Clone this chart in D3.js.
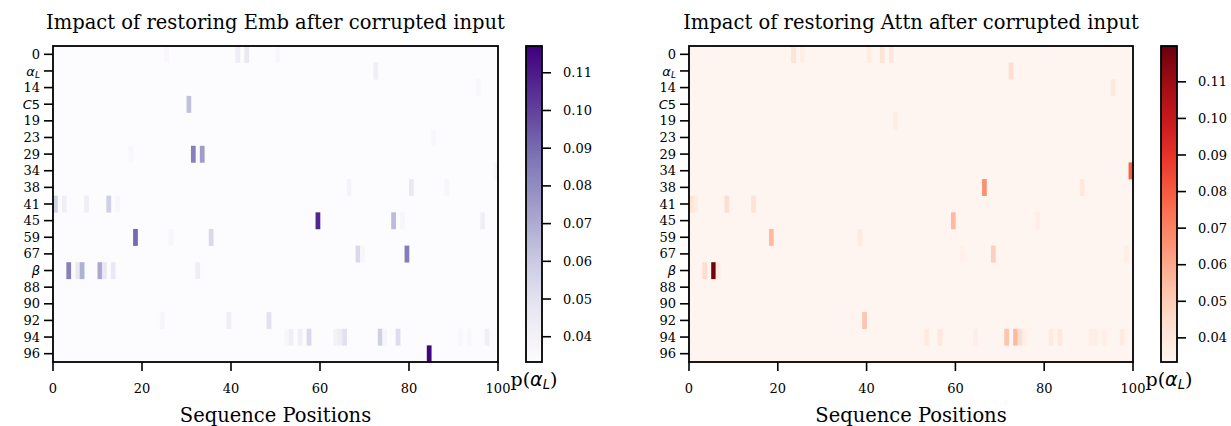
<!DOCTYPE html>
<html>
<head>
<meta charset="utf-8">
<script src="https://cdn.jsdelivr.net/npm/d3@7"></script>
<style>
  body { margin: 0; background: #fff; }
  svg text { font-family: "DejaVu Serif", serif; fill: #000; }
</style>
</head>
<body>
<div id="chart"></div>
<script>
// row labels (layers / tokens); "aL", "C5", "beta" are drawn as math
const rowLabels = ["0", "aL", "14", "C5", "19", "23", "29", "34", "38", "41", "45", "59", "67", "beta", "88", "90", "92", "94", "96"];
const nPositions = 100;
const xTicks = [0, 20, 40, 60, 80, 100];

// background value of untouched cells
const embBase = 0.0333;
const attnBase = 0.0334;
const embDomain = [0.0333, 0.1171];
const attnDomain = [0.0334, 0.1198];
const cbTicks = [0.04, 0.05, 0.06, 0.07, 0.08, 0.09, 0.10, 0.11];

// [row label, position, p(alpha_L)]
const embCells = [
  ["0", 25, 0.036], ["0", 41, 0.043], ["0", 43, 0.046], ["0", 50, 0.037],
  ["aL", 72, 0.042],
  ["14", 95, 0.037],
  ["C5", 30, 0.063],
  ["23", 85, 0.036],
  ["29", 17, 0.036], ["29", 31, 0.084], ["29", 33, 0.075],
  ["34", 99, 0.037],
  ["38", 66, 0.039], ["38", 80, 0.046], ["38", 88, 0.037],
  ["41", 0, 0.057], ["41", 2, 0.042], ["41", 7, 0.042], ["41", 12, 0.058], ["41", 14, 0.037],
  ["45", 59, 0.107], ["45", 76, 0.065], ["45", 78, 0.037], ["45", 96, 0.042],
  ["59", 18, 0.090], ["59", 26, 0.037], ["59", 35, 0.054],
  ["67", 68, 0.054], ["67", 69, 0.037], ["67", 79, 0.085],
  ["beta", 3, 0.084], ["beta", 5, 0.046], ["beta", 6, 0.069], ["beta", 10, 0.071],
  ["beta", 11, 0.046], ["beta", 13, 0.046], ["beta", 32, 0.043],
  ["92", 24, 0.038], ["92", 39, 0.043], ["92", 48, 0.050],
  ["94", 52, 0.037], ["94", 53, 0.042], ["94", 55, 0.042], ["94", 57, 0.054],
  ["94", 63, 0.040], ["94", 64, 0.043], ["94", 65, 0.050], ["94", 73, 0.058],
  ["94", 74, 0.038], ["94", 77, 0.052], ["94", 91, 0.036], ["94", 93, 0.036], ["94", 97, 0.042],
  ["96", 84, 0.116]
];

const attnCells = [
  ["0", 23, 0.042], ["0", 25, 0.037], ["0", 40, 0.038], ["0", 43, 0.042], ["0", 45, 0.040],
  ["aL", 72, 0.044],
  ["14", 95, 0.040],
  ["19", 46, 0.038],
  ["34", 99, 0.078],
  ["38", 66, 0.066], ["38", 88, 0.040],
  ["41", 0, 0.042], ["41", 1, 0.038], ["41", 8, 0.044], ["41", 14, 0.042],
  ["45", 59, 0.055], ["45", 78, 0.037],
  ["59", 18, 0.055], ["59", 38, 0.039],
  ["67", 61, 0.036], ["67", 68, 0.049], ["67", 98, 0.037],
  ["beta", 3, 0.044], ["beta", 5, 0.118], ["beta", 6, 0.039],
  ["92", 39, 0.052],
  ["94", 53, 0.039], ["94", 56, 0.040], ["94", 64, 0.037], ["94", 71, 0.052],
  ["94", 73, 0.055], ["94", 74, 0.044], ["94", 75, 0.037], ["94", 81, 0.039],
  ["94", 83, 0.040], ["94", 90, 0.037], ["94", 91, 0.037], ["94", 93, 0.037], ["94", 97, 0.039]
];

const W = 1231, H = 426;
const svg = d3.select("#chart").append("svg")
  .attr("width", W).attr("height", H);

function rowLabel(sel, key) {
  const math = "font-family:'DejaVu Sans';font-style:italic";
  if (key === "aL") {
    sel.append("tspan").attr("style", math).text("α");
    sel.append("tspan").attr("style", math).attr("font-size", "0.7em").attr("dy", "0.25em").text("L");
  } else if (key === "C5") {
    sel.append("tspan").attr("style", math).text("C");
    sel.append("tspan").attr("style", "font-family:'DejaVu Sans'").text("5");
  } else if (key === "beta") {
    sel.append("tspan").attr("style", math).text("β");
  } else {
    sel.text(key);
  }
}

function panel(opt) {
  const { left, right, top, bottom, cbLeft, cbWidth, title, cells, base, domain, interp } = opt;
  const g = svg.append("g");

  const x = d3.scaleLinear().domain([0, nPositions]).range([left, right]);
  const y = d3.scaleBand().domain(rowLabels).range([top, bottom]);
  const color = d3.scaleSequential(interp).domain(domain);

  // background cells
  g.append("rect")
    .attr("x", left).attr("y", top)
    .attr("width", right - left).attr("height", bottom - top)
    .attr("fill", color(base));

  g.selectAll("rect.cell")
    .data(cells)
    .join("rect")
    .attr("class", "cell")
    .attr("x", d => x(d[1]))
    .attr("y", d => y(d[0]))
    .attr("width", x(1) - x(0) + 0.3)
    .attr("height", y.bandwidth() + 0.3)
    .attr("fill", d => color(d[2]));

  // frame
  g.append("rect")
    .attr("x", left).attr("y", top)
    .attr("width", right - left).attr("height", bottom - top)
    .attr("fill", "none").attr("stroke", "#000").attr("stroke-width", 1.8);

  // y ticks
  const yt = g.selectAll("g.ytick").data(rowLabels).join("g")
    .attr("transform", d => `translate(${left},${y(d) + y.bandwidth() / 2})`);
  yt.append("line").attr("x1", -9).attr("x2", 0)
    .attr("stroke", "#000").attr("stroke-width", 1.6);
  yt.append("text")
    .attr("x", -13).attr("dy", "0.35em")
    .attr("text-anchor", "end").attr("font-size", 13)
    .each(function (d) { rowLabel(d3.select(this), d); });

  // x ticks
  const xt = g.selectAll("g.xtick").data(xTicks).join("g")
    .attr("transform", d => `translate(${x(d)},${bottom})`);
  xt.append("line").attr("y1", 0).attr("y2", 9)
    .attr("stroke", "#000").attr("stroke-width", 1.6);
  xt.append("text")
    .attr("y", 31).attr("text-anchor", "middle").attr("font-size", 13)
    .text(d => d);

  g.append("text")
    .attr("x", (left + right) / 2).attr("y", 422)
    .attr("text-anchor", "middle").attr("font-size", 19.5)
    .text("Sequence Positions");

  g.append("text")
    .attr("x", (left + right) / 2).attr("y", 29)
    .attr("text-anchor", "middle").attr("font-size", 19.5)
    .text(title);

  // colorbar
  const cy = d3.scaleLinear().domain(domain).range([bottom, top]);
  const steps = d3.range(bottom - top);
  g.selectAll("rect.cb").data(steps).join("rect")
    .attr("class", "cb")
    .attr("x", cbLeft).attr("y", d => top + d)
    .attr("width", cbWidth).attr("height", 1.2)
    .attr("fill", d => color(cy.invert(top + d + 0.5)));
  g.append("rect")
    .attr("x", cbLeft).attr("y", top)
    .attr("width", cbWidth).attr("height", bottom - top)
    .attr("fill", "none").attr("stroke", "#000").attr("stroke-width", 1.8);

  const ct = g.selectAll("g.ctick").data(cbTicks).join("g")
    .attr("transform", d => `translate(${cbLeft + cbWidth},${cy(d)})`);
  ct.append("line").attr("x1", 0).attr("x2", 9)
    .attr("stroke", "#000").attr("stroke-width", 1.6);
  ct.append("text")
    .attr("x", 21).attr("dy", "0.35em").attr("font-size", 13)
    .text(d => d.toFixed(2));

  const lab = g.append("text")
    .attr("x", cbLeft + cbWidth / 2).attr("y", 386)
    .attr("text-anchor", "middle").attr("font-size", 19);
  lab.append("tspan").text("p(");
  lab.append("tspan").attr("style", "font-family:'DejaVu Sans';font-style:italic").text("α");
  lab.append("tspan").attr("style", "font-family:'DejaVu Sans';font-style:italic")
    .attr("font-size", "0.7em").attr("dy", "0.25em").text("L");
  lab.append("tspan").attr("dy", "-0.18em").text(")");
}

panel({
  left: 53, right: 498, top: 46, bottom: 362,
  cbLeft: 526, cbWidth: 16,
  title: "Impact of restoring Emb after corrupted input",
  cells: embCells, base: embBase, domain: embDomain, interp: d3.interpolatePurples
});

panel({
  left: 689, right: 1133, top: 46, bottom: 362,
  cbLeft: 1161, cbWidth: 16,
  title: "Impact of restoring Attn after corrupted input",
  cells: attnCells, base: attnBase, domain: attnDomain, interp: d3.interpolateReds
});
</script>
</body>
</html>
